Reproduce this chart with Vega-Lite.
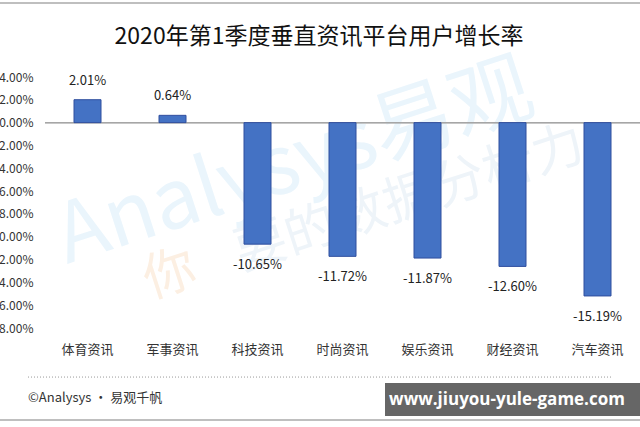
{
  "$schema": "https://vega.github.io/schema/vega-lite/v6.json",
  "autosize": "none",
  "width": 595,
  "height": 251,
  "padding": {"left": 45, "top": 77, "right": 0, "bottom": 99},
  "background": "white",
  "config": {
    "font": "Noto Sans CJK SC",
    "view": {"stroke": null},
    "locale": {"number": {"decimal": ".", "thousands": ",", "grouping": [3], "currency": ["$", ""], "minus": "-"}}
  },
  "resolve": {"scale": {"x": "independent", "y": "independent"}},
  "layer": [
    {
      "data": {"values": [
        {"t": "Analysys易观", "x": 250, "y": -0.036, "c": "blue"},
        {"t": "你", "x": 125, "y": -0.1335, "c": "orange"},
        {"t": "要的数据分析力", "x": 365, "y": -0.067, "c": "blue2"}
      ]},
      "mark": {"type": "text", "angle": -18, "align": "center", "baseline": "middle"},
      "encoding": {
        "x": {"field": "x", "type": "quantitative", "scale": {"domain": [0, 595], "nice": false, "zero": false}, "axis": null},
        "y": {"field": "y", "type": "quantitative", "scale": {"domain": [-0.18, 0.04], "nice": false, "zero": false}, "axis": null},
        "text": {"field": "t"},
        "size": {"condition": {"test": "datum.t == 'Analysys易观'", "value": 82}, "value": 52},
        "fontWeight": {"condition": {"test": "datum.t == 'Analysys易观'", "value": "bold"}, "value": "normal"},
        "color": {"field": "c", "type": "nominal", "scale": {"domain": ["blue", "orange", "blue2"], "range": ["#eaf5fc", "#fcefe2", "#eef4f9"]}, "legend": null}
      }
    },
    {
      "data": {"values": [
        {"category": "体育资讯", "value": 0.0201},
        {"category": "军事资讯", "value": 0.0064},
        {"category": "科技资讯", "value": -0.1065},
        {"category": "时尚资讯", "value": -0.1172},
        {"category": "娱乐资讯", "value": -0.1187},
        {"category": "财经资讯", "value": -0.126},
        {"category": "汽车资讯", "value": -0.1519}
      ]},
      "encoding": {
        "x": {"field": "category", "type": "nominal", "sort": null,
          "scale": {"paddingInner": 0, "paddingOuter": 0},
          "axis": {"title": null, "domain": false, "ticks": false, "labelAngle": 0, "labelFontSize": 13, "labelColor": "#333333", "labelPadding": 15}},
        "y": {"field": "value", "type": "quantitative",
          "scale": {"domain": [-0.18, 0.04], "nice": false, "zero": false},
          "axis": {"title": null, "values": [0.04, 0.02, 0, -0.02, -0.04, -0.06, -0.08, -0.1, -0.12, -0.14, -0.16, -0.18], "format": ".2%", "domain": false, "ticks": false, "grid": false, "labelFontSize": 12, "labelColor": "#333333", "labelPadding": 12}}
      },
      "layer": [
        {"mark": {"type": "rule", "color": "#A6A6A6", "strokeWidth": 1}, "encoding": {"x": {"value": 0}, "x2": {"value": 595}, "y": {"datum": 0, "type": "quantitative"}}},
        {"mark": {"type": "bar", "width": 27, "color": "#4472C4", "stroke": "#2F4E9E", "strokeWidth": 1}},
        {"transform": [{"filter": "datum.value > 0"}], "mark": {"type": "text", "dy": -19, "fontSize": 13, "color": "#222222", "baseline": "middle"}, "encoding": {"text": {"field": "value", "format": ".2%"}}},
        {"transform": [{"filter": "datum.value < 0"}], "mark": {"type": "text", "dy": 21, "fontSize": 13, "color": "#222222", "baseline": "middle"}, "encoding": {"text": {"field": "value", "format": ".2%"}}}
      ]
    },
    {
      "encoding": {
        "x": {"field": "x", "type": "quantitative", "scale": {"domain": [0, 595], "nice": false, "zero": false}, "axis": null},
        "y": {"field": "y", "type": "quantitative", "scale": {"domain": [-0.18, 0.04], "nice": false, "zero": false}, "axis": null}
      },
      "layer": [
        {
          "data": {"values": [
            {"x": -45, "x2": 595, "y": 0.1049},
            {"x": -45, "x2": 595, "y": -0.2606}
          ]},
          "mark": {"type": "rule", "color": "#AAAAAA", "strokeWidth": 1.5},
          "encoding": {"x2": {"field": "x2"}}
        },
        {
          "data": {"values": [{"x": 274, "y": 0.0752, "t": "2020年第1季度垂直资讯平台用户增长率"}]},
          "mark": {"type": "text", "align": "center", "baseline": "middle", "fontSize": 23, "color": "#111111"},
          "encoding": {"text": {"field": "t"}}
        },
        {
          "data": {"values": [{"x": -17, "x2": 567, "y": -0.223}]},
          "mark": {"type": "rule", "color": "#999999", "strokeWidth": 1, "strokeDash": [1, 2]},
          "encoding": {"x2": {"field": "x2"}}
        },
        {
          "data": {"values": [{"x": -17, "y": -0.2414, "t": "©Analysys · 易观千帆"}]},
          "mark": {"type": "text", "align": "left", "baseline": "middle", "fontSize": 13, "color": "#333333"},
          "encoding": {"text": {"field": "t"}}
        },
        {
          "data": {"values": [{"x": 340, "x2": 595, "y": -0.2282, "y2": -0.2571}]},
          "mark": {"type": "rect", "color": "#666666"},
          "encoding": {"x2": {"field": "x2"}, "y2": {"field": "y2"}}
        },
        {
          "data": {"values": [{"x": 462, "y": -0.2431, "t": "www.jiuyou-yule-game.com"}]},
          "mark": {"type": "text", "align": "center", "baseline": "middle", "fontSize": 17, "fontWeight": "bold", "font": "Open Sans", "color": "#ffffff"},
          "encoding": {"text": {"field": "t"}}
        }
      ]
    }
  ]
}
